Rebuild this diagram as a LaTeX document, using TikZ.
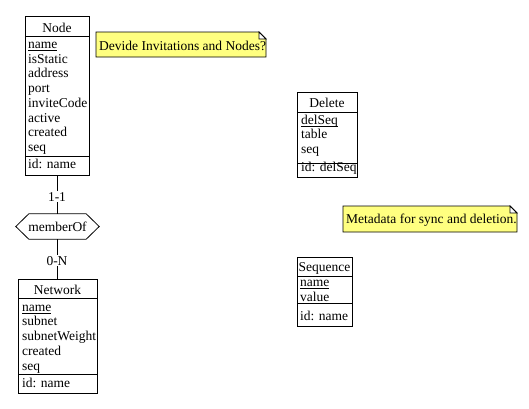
\documentclass[tikz,border=0pt]{standalone}
\usepackage{fontspec}
\setmainfont{Liberation Serif}
\definecolor{noteyellow}{HTML}{FFFF80}
\newcommand\keyul[1]{\setbox0\hbox{#1}\rlap{\rule[-1.8pt]{\wd0}{0.7pt}}\box0}
\begin{document}
\begin{tikzpicture}[x=1pt,y=-1pt,font=\fontsize{13.5}{15}\selectfont]
\useasboundingbox (0,0) rectangle (529,408);
\tikzset{
  ent/.style={draw, line width=0.8pt, inner sep=0pt, anchor=north west},
  sep/.style={line width=0.8pt},
  txt/.style={anchor=base west, inner sep=0pt},
  ttl/.style={anchor=base, inner sep=0pt},
  notebox/.style={fill=noteyellow, draw, line width=0.8pt},
  card/.style={fill=white, inner sep=1pt, anchor=base},
  conn/.style={line width=0.8pt},
}
% ---------- Node entity
\node[ent, minimum width=64pt, minimum height=159pt] (node) at (25,16) {};
\draw[sep] (25,36) -- (89,36);
\draw[sep] (25,156) -- (89,156);
\node[ttl] (nodeT) at (57,32) {Node};
\node[txt] (nodeA1) at (28,48.5) {\keyul{name}};
\node[txt] (nodeA2) at (28,63.5) {isStatic};
\node[txt] (nodeA3) at (28,77.5) {address};
\node[txt] (nodeA4) at (28,92.5) {port};
\node[txt] (nodeA5) at (28,107.5) {inviteCode};
\node[txt] (nodeA6) at (28,122.5) {active};
\node[txt] (nodeA7) at (28,136.5) {created};
\node[txt] (nodeA8) at (28,151.5) {seq};
\node[txt] (nodeId) at (28,168.5) {id: name};
% ---------- Network entity
\node[ent, minimum width=79pt, minimum height=114pt] (net) at (18,279) {};
\draw[sep] (18,298) -- (97,298);
\draw[sep] (18,374) -- (97,374);
\node[ttl] (netT) at (57.5,294.5) {Network};
\node[txt] (netA1) at (22,311.5) {\keyul{name}};
\node[txt] (netA2) at (22,325.5) {subnet};
\node[txt] (netA3) at (22,340.5) {subnetWeight};
\node[txt] (netA4) at (22,355.5) {created};
\node[txt] (netA5) at (22,370.5) {seq};
\node[txt] (netId) at (22,387.5) {id: name};
% ---------- Delete entity
\node[ent, minimum width=60pt, minimum height=85pt] (del) at (297,92) {};
\draw[sep] (297,112) -- (357,112);
\draw[sep] (297,163) -- (357,163);
\node[ttl] (delT) at (327,107.5) {Delete};
\node[txt] (delA1) at (301,124.5) {\keyul{delSeq}};
\node[txt] (delA2) at (301,138.5) {table};
\node[txt] (delA3) at (301,153.5) {seq};
\node[txt] (delId) at (301,171.5) {id: delSeq};
% ---------- Sequence entity
\node[ent, minimum width=55pt, minimum height=69pt] (seqE) at (297,257) {};
\draw[sep] (297,276) -- (352,276);
\draw[sep] (297,303) -- (352,303);
\node[ttl] (seqT) at (324.5,271.5) {Sequence};
\node[txt] (seqA1) at (300,286.5) {\keyul{name}};
\node[txt] (seqA2) at (300,301) {value};
\node[txt] (seqId) at (300,320.5) {id: name};
% ---------- relationship
\node[inner sep=0pt, minimum width=83pt, minimum height=25pt] (rel) at (57.5,226.5) {memberOf};
\draw[line width=0.8pt] (rel.west) -- ([xshift=13pt]rel.north west) -- ([xshift=-13pt]rel.north east)
  -- (rel.east) -- ([xshift=-13pt]rel.south east) -- ([xshift=13pt]rel.south west) -- cycle;
\draw[conn] (node.south -| rel.north) -- (rel.north);
\draw[conn] (rel.south) -- (net.north -| rel.south);
\node[card] (c1) at (57,201) {1-1};
\node[card] (c2) at (57,265) {0-N};
% ---------- notes
\draw[notebox] (96,32) -- (259,32) -- (266,39) -- (266,57) -- (96,57) -- cycle;
\draw[line width=0.8pt, fill=white] (259,32) -- (259,39) -- (266,39) -- cycle;
\node[txt] (note1) at (99,50) {Devide Invitations and Nodes?};
\draw[notebox] (343,206) -- (510,206) -- (517,213) -- (517,232) -- (343,232) -- cycle;
\draw[line width=0.8pt, fill=white] (510,206) -- (510,213) -- (517,213) -- cycle;
\node[txt] (note2) at (346,223.5) {Metadata for sync and deletion.};
\end{tikzpicture}
\end{document}
